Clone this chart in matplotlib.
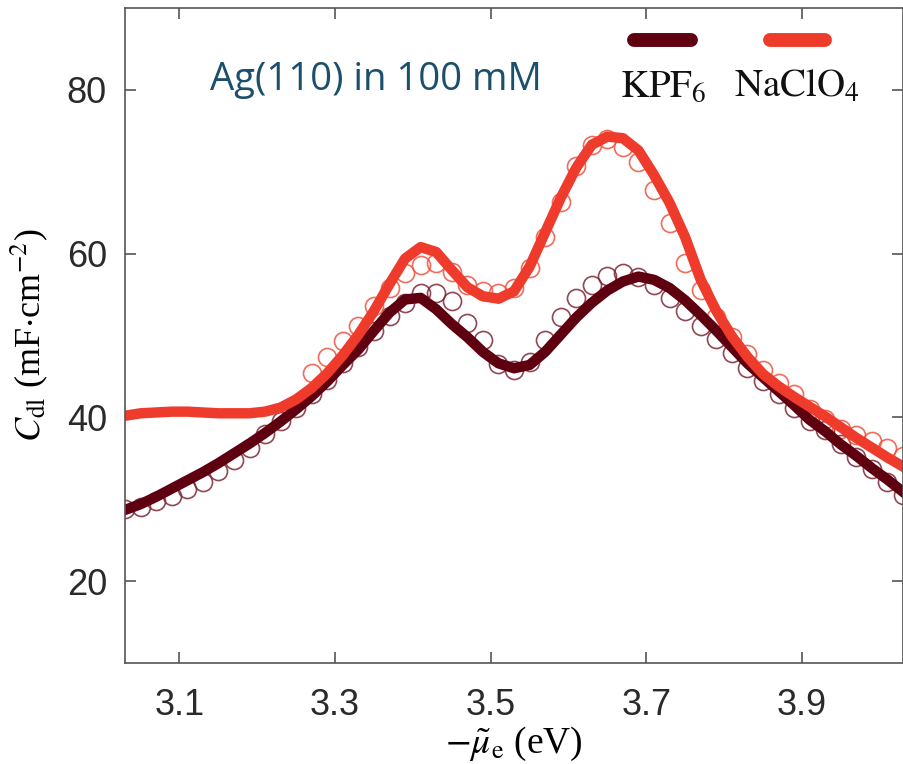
import numpy as np
import matplotlib
matplotlib.use('Agg')
import matplotlib.pyplot as plt

plt.rcParams['mathtext.fontset'] = 'stix'
plt.rcParams['font.family'] = ['Liberation Sans', 'DejaVu Sans']

# electron energy grid (eV)
x = [3.03, 3.05, 3.07, 3.09, 3.11, 3.13, 3.15, 3.17, 3.19, 3.21,
     3.23, 3.25, 3.27, 3.29, 3.31, 3.33, 3.35, 3.37, 3.39, 3.41,
     3.43, 3.45, 3.47, 3.49, 3.51, 3.53, 3.55, 3.57, 3.59, 3.61,
     3.63, 3.65, 3.67, 3.69, 3.71, 3.73, 3.75, 3.77, 3.79, 3.81,
     3.83, 3.85, 3.87, 3.89, 3.91, 3.93, 3.95, 3.97, 3.99, 4.01, 4.03]

# KPF6 measured points and fit
kpf6_data = [28.8, 29.1, 29.8, 30.4, 31.3, 32.1, 33.5, 34.8, 36.3, 38.0,
             39.6, 41.2, 42.8, 44.6, 46.6, 48.6, 50.6, 52.4, 54.0, 55.2,
             55.2, 54.2, 51.5, 49.5, 46.5, 45.8, 46.8, 49.5, 52.3, 54.6,
             56.2, 57.3, 57.6, 57.2, 56.2, 54.6, 53.0, 51.2, 49.6, 47.9,
             46.0, 44.5, 42.9, 41.2, 39.6, 38.4, 36.8, 35.2, 33.7, 32.1, 30.5]
kpf6_fit = [28.7, 29.4, 30.3, 31.3, 32.3, 33.3, 34.4, 35.6, 36.8, 38.1,
            39.5, 41.0, 42.6, 44.4, 46.4, 48.3, 50.6, 52.8, 54.4, 54.6,
            53.2, 51.4, 49.8, 48.0, 46.6, 46.0, 46.4, 48.0, 50.1, 52.2,
            54.0, 55.5, 56.6, 57.2, 56.8, 55.8, 54.3, 52.5, 50.6, 48.6,
            46.6, 44.9, 43.2, 41.5, 39.7, 38.3, 36.7, 35.3, 33.8, 32.4, 30.9]

# NaClO4 measured points (from 3.27 eV) and fit
x_na = x[12:]
naclo4_data = [45.4, 47.4, 49.3, 51.2, 53.6, 55.8, 57.6, 58.6,
               58.8, 57.8, 56.2, 55.4, 55.2, 55.8, 58.3, 62.0, 66.3, 70.7,
               73.3, 74.0, 73.0, 71.2, 67.8, 63.8, 58.8, 55.5, 52.3, 49.8,
               47.7, 45.8, 44.2, 42.8, 41.0, 39.8, 38.6, 37.8, 37.1, 36.3, 35.3]
naclo4_fit = [40.2, 40.5, 40.6, 40.7, 40.7, 40.6, 40.5, 40.5, 40.5, 40.7,
              41.2, 42.2, 43.6, 45.4, 47.6, 50.1, 53.0, 56.3, 59.4, 60.8,
              60.2, 58.0, 55.9, 54.8, 54.5, 55.4, 58.4, 62.6, 66.8, 70.5,
              73.3, 74.3, 74.1, 72.6, 69.6, 66.2, 62.0, 56.8, 53.0, 49.9,
              47.4, 45.3, 43.8, 42.5, 41.3, 40.1, 38.8, 37.5, 36.3, 35.1, 34.0]

dark = '#5f0010'
red = '#ef3b2c'

fig = plt.figure(figsize=(9.04, 7.64), dpi=100)
ax = fig.add_axes([0.1383, 0.1322, 0.8606, 0.8573])

ax.plot(x, kpf6_data, 'o', mfc='none', mec='#7b2836', mew=1.2, ms=13, alpha=0.85)
ax.plot(x_na, naclo4_data, 'o', mfc='none', mec='#f0523f', mew=1.2, ms=13, alpha=0.85)
ax.plot(x, kpf6_fit, color=dark, lw=7.5, solid_joinstyle='round')
ax.plot(x, naclo4_fit, color=red, lw=7.5, solid_joinstyle='round')

ax.set_xlim(3.03, 4.03)
ax.set_ylim(10, 90)
ax.set_xticks([3.1, 3.3, 3.5, 3.7, 3.9])
ax.set_yticks([20, 40, 60, 80])
ax.tick_params(direction='in', length=8, width=1.2, color='#555555',
               top=True, right=True, labelsize=26, labelcolor='#2a2a2a')
ax.tick_params(axis='x', pad=18)
ax.tick_params(axis='y', pad=13)
for s in ax.spines.values():
    s.set_color('#555555')
    s.set_linewidth(1.2)

ax.set_xlabel(r'$-\tilde{\mu}_\mathrm{e}$ (eV)', family='Liberation Serif', fontsize=27, labelpad=1)
ax.set_ylabel(r'$C_\mathrm{dl}$ (mF$\cdot$cm$^{-2}$)', family='Liberation Serif', fontsize=26, labelpad=12)

ax.text(0.109, 0.875, 'Ag(110) in 100 mM', transform=ax.transAxes, family='Open Sans',
        fontsize=27.5, color='#1b4f6b', va='baseline')

# legend: short thick line above each label
for x0, x1, xc, c, lab in [(0.654, 0.728, 0.692, dark, r'$\mathrm{KPF_6}$'),
                           (0.829, 0.900, 0.864, red, r'$\mathrm{NaClO_4}$')]:
    ax.plot([x0, x1], [0.951, 0.951], transform=ax.transAxes, color=c, lw=10,
            solid_capstyle='round', clip_on=False)
    ax.text(xc, 0.864, lab, transform=ax.transAxes, ha='center', va='baseline',
            fontsize=28, color='#111111')

fig.savefig('out.png', dpi=100)
